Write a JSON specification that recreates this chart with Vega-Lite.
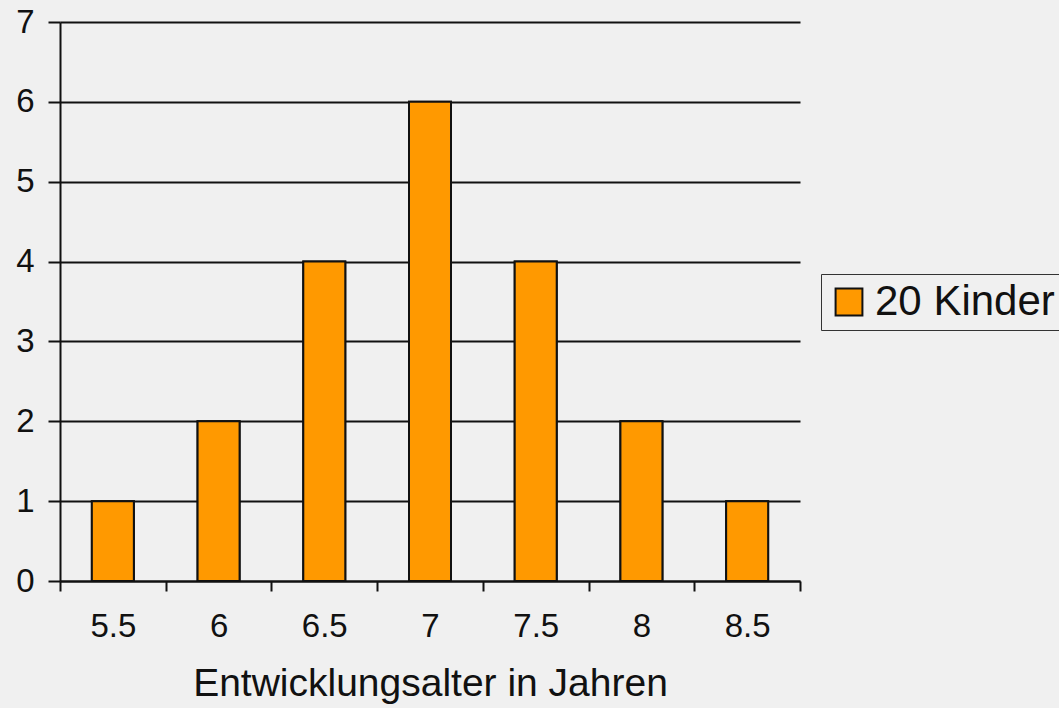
{
  "$schema": "https://vega.github.io/schema/vega-lite/v6.json",
  "width": 740,
  "height": 559,
  "autosize": "none",
  "padding": {"left": 60, "top": 22, "right": 259, "bottom": 127},
  "background": "#f0f0f0",
  "config": {"view": {"stroke": null}, "font": "Liberation Sans"},
  "data": {
    "values": [
      {"alter": 5.5, "anzahl": 1},
      {"alter": 6, "anzahl": 2},
      {"alter": 6.5, "anzahl": 4},
      {"alter": 7, "anzahl": 6},
      {"alter": 7.5, "anzahl": 4},
      {"alter": 8, "anzahl": 2},
      {"alter": 8.5, "anzahl": 1}
    ]
  },
  "encoding": {
    "y": {
      "field": "anzahl",
      "type": "quantitative",
      "stack": null,
      "scale": {"domain": [0, 7], "nice": false},
      "axis": {
        "values": [0, 1, 2, 3, 4, 5, 6, 7],
        "title": null,
        "grid": true,
        "gridColor": "#111111",
        "gridWidth": 2,
        "gridOpacity": 1,
        "tickSize": 12,
        "tickWidth": 2,
        "tickColor": "#111111",
        "domainColor": "#111111",
        "domainWidth": 2,
        "labelFontSize": 33,
        "labelColor": "#111111",
        "labelPadding": 14
      }
    },
    "color": {
      "datum": "20 Kinder",
      "type": "nominal",
      "scale": {"range": ["#FF9900"]},
      "legend": {
        "title": null,
        "orient": "none",
        "legendX": 761,
        "legendY": 252,
        "fillColor": "#f0f0f0",
        "strokeColor": "#333333",
        "padding": 7,
        "symbolType": "square",
        "symbolSize": 720,
        "symbolStrokeColor": "#111111",
        "symbolStrokeWidth": 2,
        "symbolOpacity": 1,
        "labelFontSize": 42,
        "labelColor": "#111111",
        "labelOffset": 5,
        "labelLimit": 500
      }
    }
  },
  "layer": [
    {
      "mark": {"type": "bar", "size": 42, "stroke": "#111111", "strokeWidth": 2},
      "encoding": {
        "x": {
          "field": "alter",
          "type": "quantitative",
          "scale": {"domain": [5.25, 8.75], "nice": false, "zero": false, "padding": 0},
          "axis": {
            "orient": "bottom",
            "values": [5.25, 5.75, 6.25, 6.75, 7.25, 7.75, 8.25, 8.75],
            "title": null,
            "labels": false,
            "tickSize": 10,
            "tickWidth": 2,
            "tickColor": "#111111",
            "domainColor": "#111111",
            "domainWidth": 2,
            "grid": false
          }
        }
      }
    },
    {
      "mark": {"type": "bar", "size": 42, "stroke": "#111111", "strokeWidth": 2},
      "encoding": {
        "x": {
          "field": "alter",
          "type": "quantitative",
          "scale": {"domain": [5.25, 8.75], "nice": false, "zero": false, "padding": 0},
          "axis": {
            "orient": "bottom",
            "values": [5.5, 6, 6.5, 7, 7.5, 8, 8.5],
            "format": "~g",
            "title": "Entwicklungsalter in Jahren",
            "ticks": false,
            "domain": false,
            "grid": false,
            "labelOverlap": false,
            "labelFlush": false,
            "labelFontSize": 33,
            "labelColor": "#111111",
            "labelPadding": 29,
            "titleFontSize": 39,
            "titleFontWeight": "normal",
            "titleColor": "#111111",
            "titlePadding": 21
          }
        }
      }
    }
  ],
  "resolve": {"axis": {"x": "independent"}}
}
